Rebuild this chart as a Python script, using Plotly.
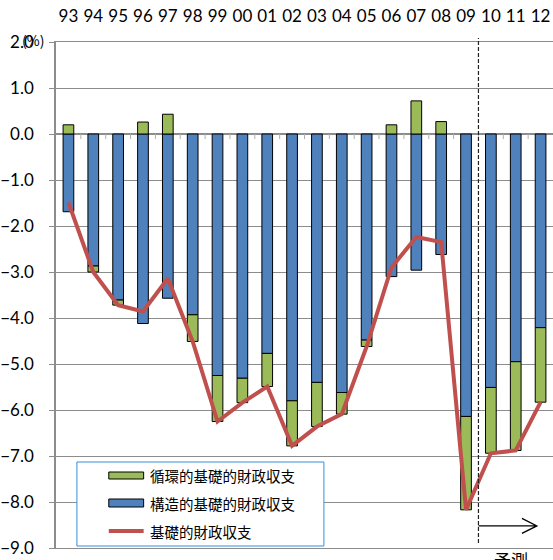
import plotly.graph_objects as go

# Fiscal years (last three are projections)
years = ["93", "94", "95", "96", "97", "98", "99", "00", "01", "02",
         "03", "04", "05", "06", "07", "08", "09", "10", "11", "12"]

# Structural primary balance (% of GDP)
structural = [-1.69, -2.87, -3.61, -4.12, -3.57, -3.93, -5.25, -5.31, -4.77, -5.80,
              -5.40, -5.62, -4.48, -3.10, -2.96, -2.62, -6.14, -5.51, -4.95, -4.21]

# Cyclical primary balance (% of GDP)
cyclical = [0.20, -0.13, -0.11, 0.26, 0.43, -0.58, -1.00, -0.53, -0.72, -0.98,
            -0.96, -0.47, -0.14, 0.20, 0.72, 0.27, -2.03, -1.43, -1.93, -1.62]

# Primary balance = structural + cyclical
primary = [round(s + c, 2) for s, c in zip(structural, cyclical)]

name_cyc = "循環的基礎的財政収支"
name_str = "構造的基礎的財政収支"
name_pri = "基礎的財政収支"
forecast_label = "予測"

BLUE = "#4F81BD"
GREEN = "#9BBB59"
RED = "#C0504D"
GRID = "#8C8C8C"
NUM_FONT = "Lato"
JP_FONT = "Noto Sans CJK JP"

W, H = 553, 560
ML, MR, MT, MB = 54, 0, 42, 12
PW, PH = W - ML - MR, H - MT - MB


def px_x(p):
    return (p - ML) / PW


def px_y(p):
    return (H - MB - p) / PH


xs = list(range(len(years)))

fig = go.Figure()
fig.add_trace(go.Bar(x=xs, y=structural, name=name_str,
                     marker=dict(color=BLUE, line=dict(color="black", width=1))))
fig.add_trace(go.Bar(x=xs, y=cyclical, name=name_cyc,
                     marker=dict(color=GREEN, line=dict(color="black", width=1))))
fig.add_trace(go.Scatter(x=xs, y=primary, name=name_pri, mode="lines",
                         line=dict(color=RED, width=4)))

shapes = []
# small category ticks hanging below the zero line
for i in range(len(years) - 1):
    shapes.append(dict(type="line", xref="x", yref="y", x0=i + 0.5, x1=i + 0.5,
                       y0=0, y1=-0.11, line=dict(color="#B0B0B0", width=1)))

# forecast divider
split = years.index("10") - 0.5
shapes.append(dict(type="line", xref="x", yref="paper", x0=split, x1=split,
                   y0=px_y(543), y1=px_y(38), line=dict(color="#222", width=1.2, dash="4px,2px")))
# forecast arrow
ay = -8.52
tip = 18.85
shapes.append(dict(type="path", xref="x", yref="y",
                   path=f"M{split},{ay} L{tip},{ay} M{tip - 0.6},{ay + 0.163} L{tip},{ay} L{tip - 0.6},{ay - 0.163}",
                   line=dict(color="black", width=1.3)))

# legend box and keys
shapes.append(dict(type="rect", xref="paper", yref="paper", layer="above",
                   x0=px_x(75), x1=px_x(323), y0=px_y(546), y1=px_y(462),
                   fillcolor="white", line=dict(color="#3C8DD8", width=1)))
shapes.append(dict(type="rect", xref="paper", yref="paper", layer="above",
                   x0=px_x(107), x1=px_x(142), y0=px_y(479), y1=px_y(472),
                   fillcolor=GREEN, line=dict(color="black", width=1)))
shapes.append(dict(type="rect", xref="paper", yref="paper", layer="above",
                   x0=px_x(107), x1=px_x(142), y0=px_y(507), y1=px_y(499),
                   fillcolor=BLUE, line=dict(color="black", width=1)))
shapes.append(dict(type="line", xref="paper", yref="paper", layer="above",
                   x0=px_x(107), x1=px_x(142), y0=px_y(531), y1=px_y(531),
                   line=dict(color=RED, width=4)))

annotations = []
for label, py in [(name_cyc, 476), (name_str, 503), (name_pri, 531)]:
    annotations.append(dict(text=label, xref="paper", yref="paper", x=px_x(146), y=px_y(py),
                            xanchor="left", yanchor="middle", showarrow=False,
                            font=dict(family=JP_FONT, size=14.5, color="black")))
annotations.append(dict(text="(%)", xref="paper", yref="paper", x=px_x(31), y=px_y(40),
                        xanchor="center", yanchor="middle", showarrow=False,
                        font=dict(family=JP_FONT, size=14, color="black")))
annotations.append(dict(text=forecast_label, xref="x", yref="paper", x=17.8, y=px_y(545),
                        xanchor="center", yanchor="top", showarrow=False,
                        font=dict(family=JP_FONT, size=17, color="black")))

fig.update_layout(
    width=W, height=H,
    margin=dict(l=ML, r=MR, t=MT, b=MB, pad=0),
    paper_bgcolor="white", plot_bgcolor="white",
    barmode="relative", bargap=0.57,
    showlegend=False,
    shapes=shapes, annotations=annotations,
    xaxis=dict(range=[-0.5, len(years) - 0.5], side="top",
               tickmode="array", tickvals=xs, ticktext=years, ticks="",
               ticklabelstandoff=12,
               tickfont=dict(family=NUM_FONT, size=17, color="black"),
               showgrid=False, zeroline=False,
               showline=True, mirror=True, linecolor=GRID, linewidth=1),
    yaxis=dict(range=[-9, 2], dtick=1, tickformat=".1f",
               ticks="outside", ticklen=5, tickcolor=GRID,
               ticklabelstandoff=12,
               tickfont=dict(family=NUM_FONT, size=17, color="black"),
               showgrid=True, gridcolor=GRID, gridwidth=1,
               zeroline=True, zerolinecolor=GRID, zerolinewidth=2,
               showline=True, linecolor=GRID, linewidth=1.5),
)

fig.write_html("out.html")
